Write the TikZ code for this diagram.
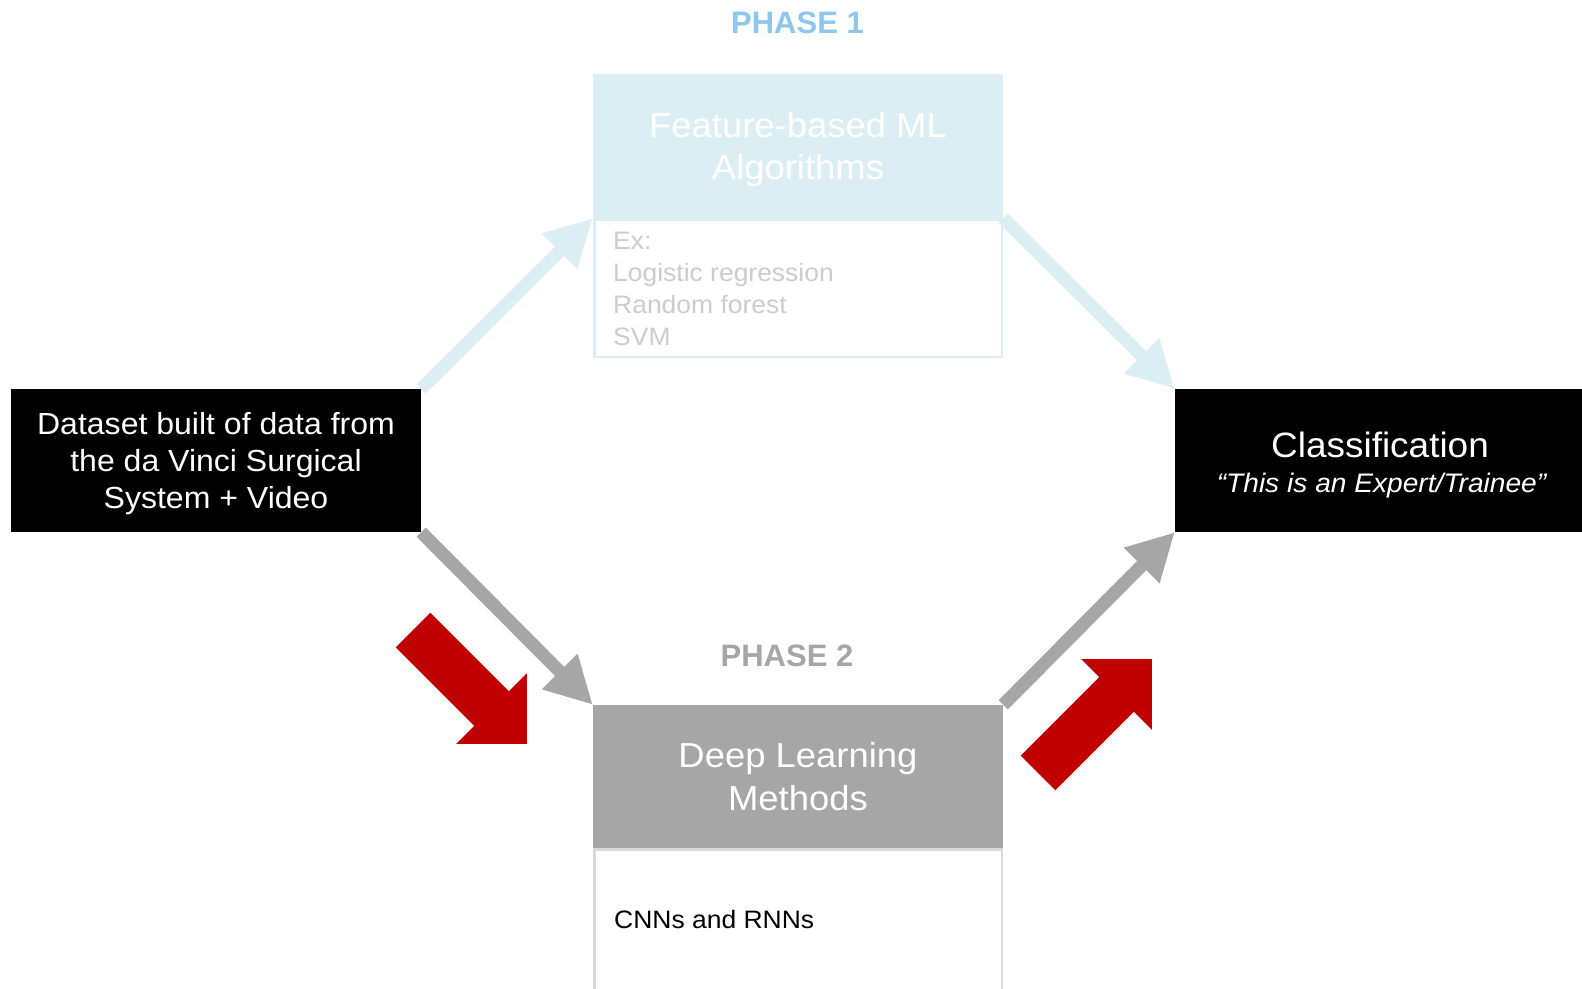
\documentclass[tikz,border=0pt]{standalone}
\usepackage{fontspec}
\setmainfont{Liberation Sans}[FakeStretch=1.05]
\newfontfamily\phasefont{Liberation Sans}
\usetikzlibrary{arrows.meta}
\definecolor{lblue}{HTML}{DAEEF3}
\definecolor{midgray}{HTML}{A6A6A6}
\definecolor{lgray}{HTML}{D9D9D9}
\definecolor{exgray}{HTML}{CCCCCC}
\definecolor{phaseblue}{HTML}{8EC6EE}
\definecolor{darkred}{HTML}{C00000}
\begin{document}
\begin{tikzpicture}[x=1pt,y=-1pt,
  box/.style={rectangle, inner sep=0pt, minimum width=410pt, minimum height=143pt},
  listbox/.style={rectangle, inner sep=0pt, line width=2.5pt, fill=white, minimum width=407.5pt},
  txt/.style={inner sep=0pt, align=center},
  phase/.style={inner sep=0pt, anchor=base, font=\phasefont\fontsize{31pt}{36pt}\selectfont\bfseries},
  fatarrow/.style={line width=13pt, -{Triangle[length=47pt,width=47pt]}},
  bluearr/.style={fatarrow, draw=lblue},
  grayarr/.style={fatarrow, draw=midgray},
  redshape/.style={fill=darkred, draw=none}
]
\useasboundingbox (0,0) rectangle (1582,988);
\clip (0,0) rectangle (1582,988);

% phase labels
\node[phase, text=phaseblue] (phase1) at (797.5,33.3) {PHASE 1};
\node[phase, text=midgray] (phase2) at (787,666) {PHASE 2};

% side boxes
\node[box, fill=black] (data) at (216,460.5) {};
\node[txt, text=white, font=\fontsize{30.5pt}{37pt}\selectfont] (datatext) at (216,464)
  {\strut Dataset built of data from\\\strut the da Vinci Surgical\\\strut System + Video};

\node[box, fill=black] (class) at (1380,460.5) {};
\node[inner sep=0pt, anchor=base, text=white, font=\fontsize{35.2pt}{40pt}\selectfont] (classtitle) at (1380,457.7) {Classification};
\node[inner sep=0pt, anchor=base, text=white, font=\fontsize{26.8pt}{30pt}\selectfont\itshape] (classquote) at (1381.5,492.5) {“This is an Expert/Trainee”};

% phase 1 boxes
\node[box, fill=lblue, minimum height=144pt] (feat) at (798,146) {};
\node[txt, text=white, font=\fontsize{34.7pt}{42pt}\selectfont] (feattext) at (798,149.6)
  {\strut Feature-based ML\\\strut Algorithms};
\node[listbox, draw=lblue, minimum height=137.5pt] (featex) at (798,288) {};
\node[inner sep=0pt, anchor=west, align=left, text=exgray, font=\fontsize{25.2pt}{32pt}\selectfont] (featlist) at (613,291.2)
  {\strut Ex:\\\strut Logistic regression\\\strut Random forest\\\strut SVM};

% phase 2 boxes
\node[box, fill=midgray] (deep) at (798,776.5) {};
\node[txt, text=white, font=\fontsize{34.7pt}{43.5pt}\selectfont] (deeptext) at (798,780.5)
  {\strut Deep Learning\\\strut Methods};
\node[listbox, draw=lgray, minimum height=144.5pt] (deepex) at (798,921.5) {};
\node[inner sep=0pt, anchor=base west, text=black, font=\fontsize{25.2pt}{32pt}\selectfont] (deeplist) at (614,928) {CNNs and RNNs};

% connectors
\draw[bluearr] (data.north east) -- (feat.south west);
\draw[bluearr] (feat.south east) -- (class.north west);
\draw[grayarr] (data.south east) -- (deep.north west);
\draw[grayarr] (deep.north east) -- (class.south west);

% red block arrows
\fill[redshape] (430.3,612.7) -- (395.7,647.3) -- (474.2,725.8) -- (456.1,743.9) -- (526.9,743.9) -- (526.9,673.1) -- (508.8,691.2) -- cycle;
\fill[redshape] (1055.3,790.3) -- (1020.7,755.7) -- (1099.2,677.2) -- (1081.1,659.1) -- (1151.9,659.1) -- (1151.9,729.9) -- (1133.8,711.8) -- cycle;
\end{tikzpicture}
\end{document}
